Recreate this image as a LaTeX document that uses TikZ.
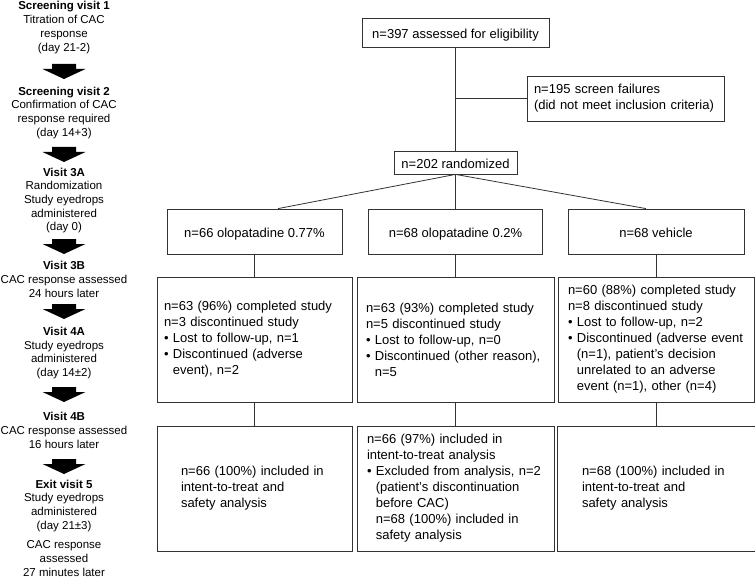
\documentclass[tikz,border=0pt]{standalone}
\usepackage{fontspec}
\setmainfont{Liberation Sans}
\newcommand\flowfont{\fontsize{13bp}{16bp}\selectfont}
\newcommand\visitfont{\fontsize{11.5bp}{13.7bp}\selectfont}
\newcommand\bulitem{\textbullet\ }
\newcommand\bulpad{\phantom{\textbullet\ }}

\begin{document}
\begin{tikzpicture}[x=1bp, y=-1bp,
	box/.style={draw=black!80, line width=0.8bp, inner ysep=0pt, font=\flowfont},
	single/.style={box, text height=13bp, text depth=1.5bp},
	tall/.style={box, align=left, minimum height=125bp},
	link/.style={draw=black!80, line width=0.8bp},
	visit/.style={align=center, font=\visitfont}]
			%%%%% START %%%%%
			\useasboundingbox (0,0) rectangle (755,578);
			
			% visit schedule
			\node[visit] (v1) at (64,27.5) {\textbf{Screening visit 1}\\Titration of CAC\\response\\(day 21-2)};
			\node[visit] (v2) at (64,112.8) {\textbf{Screening visit 2}\\Confirmation of CAC\\response required\\(day 14+3)};
			\node[visit] (v3) at (64,200.5) {\textbf{Visit 3A}\\Randomization\\Study eyedrops\\administered\\(day 0)};
			\node[visit] (v4) at (64,279.5) {\textbf{Visit 3B}\\CAC response assessed\\24 hours later};
			\node[visit] (v5) at (64,353) {\textbf{Visit 4A}\\Study eyedrops\\administered\\(day 14±2)};
			\node[visit] (v6) at (64,430.5) {\textbf{Visit 4B}\\CAC response assessed\\16 hours later};
			\node[visit] (v7) at (64,528) {\textbf{Exit visit 5}\\Study eyedrops\\administered\\(day 21±3)\\[6bp]CAC response\\assessed\\27 minutes later};
			
			\foreach \y in {64,147,239,304,387,459}
				\fill[black] (52,\y) -- (76,\y) -- (76,\y+5) -- (85.5,\y+5) -- (64,\y+15) -- (42.5,\y+5) -- (52,\y+5) -- cycle;
			
			% enrolment
			\node[single, minimum width=187bp, minimum height=29bp] (elig) at (455.5,32.5) {n=397 assessed for eligibility};
			\node[box, align=left, text width=183bp, inner xsep=7bp, minimum height=45bp] (fail) at (625.5,98.5) {n=195 screen failures\\(did not meet inclusion criteria)};
			\node[single, minimum width=123bp, minimum height=23bp] (rand) at (455.5,162.5) {n=202 randomized};
			
			% arms
			\node[single, minimum width=175bp, minimum height=45bp] (g1) at (254.5,231.5) {n=66 olopatadine 0.77\%};
			\node[single, minimum width=174bp, minimum height=45bp] (g2) at (455.5,231.5) {n=68 olopatadine 0.2\%};
			\node[single, minimum width=176bp, minimum height=45bp] (g3) at (656,231.5) {n=68 vehicle};
			
			% completion
			\node[tall, text width=181bp, inner xsep=7bp] (c1) at (254.5,339.5) {n=63 (96\%) completed study\\n=3 discontinued study\\\bulitem Lost to follow-up, n=1\\\bulitem Discontinued (adverse\\\bulpad event), n=2};
			\node[tall, text width=179bp, inner xsep=9bp] (c2) at (455.5,339.5) {n=63 (93\%) completed study\\n=5 discontinued study\\\bulitem Lost to follow-up, n=0\\\bulitem Discontinued (other reason),\\\bulpad n=5};
			\node[tall, text width=176bp, inner xsep=10bp] (c3) at (656,339.5) {n=60 (88\%) completed study\\n=8 discontinued study\\\bulitem Lost to follow-up, n=2\\\bulitem Discontinued (adverse event\\\bulpad (n=1), patient's decision\\\bulpad unrelated to an adverse\\\bulpad event (n=1), other (n=4)};
			
			% analysis
			\node[tall, text width=147bp, inner xsep=24bp] (a1) at (254.5,488.5) {n=66 (100\%) included in\\intent-to-treat and\\safety analysis};
			\node[tall, text width=177bp, inner xsep=10bp] (a2) at (455.5,488.5) {n=66 (97\%) included in\\intent-to-treat analysis\\\bulitem Excluded from analysis, n=2\\\bulpad (patient's discontinuation\\\bulpad before CAC)\\\bulpad n=68 (100\%) included in\\\bulpad safety analysis\\[-13bp]\mbox{}};
			\node[tall, text width=148bp, inner xsep=25bp] (a3) at (656,488.5) {n=68 (100\%) included in\\intent-to-treat and\\safety analysis};
			
			\draw[link] (elig) -- (rand);
			\draw[link] (fail.west) -- (fail.west -| elig.south);
			\draw[link] (rand.south) -- ([xshift=23.5bp]g1.north);
			\draw[link] (rand) -- (g2);
			\draw[link] (rand.south) -- ([xshift=-10bp]g3.north);
			\foreach \n in {1,2,3} {
				\draw[link] (g\n) -- (c\n);
				\draw[link] (c\n) -- (a\n);
			}
			%%%%% END %%%%%
\end{tikzpicture}
\end{document}
